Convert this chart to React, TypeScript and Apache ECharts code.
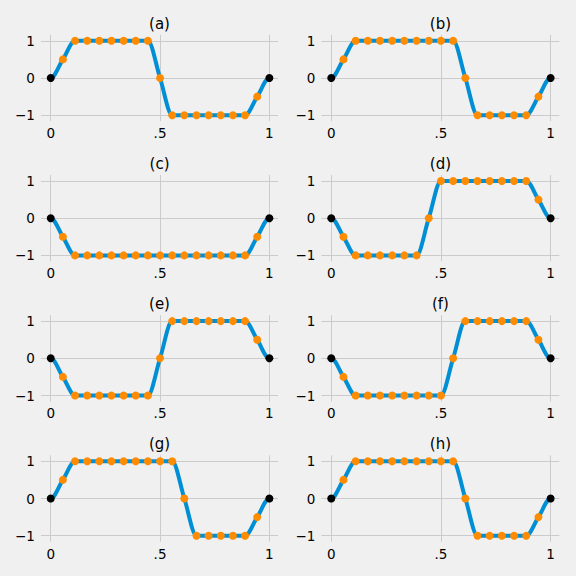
import React, { useEffect, useRef } from "react";
import * as echarts from "echarts";

// sample positions (k/18, k = 0..18)
const sampleX = [
  0, 1 / 18, 2 / 18, 3 / 18, 4 / 18, 5 / 18, 6 / 18, 7 / 18, 8 / 18, 9 / 18,
  10 / 18, 11 / 18, 12 / 18, 13 / 18, 14 / 18, 15 / 18, 16 / 18, 17 / 18, 1,
];

const panelTitles = ["(a)", "(b)", "(c)", "(d)", "(e)", "(f)", "(g)", "(h)"];

const valuesA = [0, 0.5, 1, 1, 1, 1, 1, 1, 1, 0, -1, -1, -1, -1, -1, -1, -1, -0.5, 0];
const valuesB = [0, 0.5, 1, 1, 1, 1, 1, 1, 1, 1, 1, 0, -1, -1, -1, -1, -1, -0.5, 0];
const valuesC = [0, -0.5, -1, -1, -1, -1, -1, -1, -1, -1, -1, -1, -1, -1, -1, -1, -1, -0.5, 0];
const valuesD = [0, -0.5, -1, -1, -1, -1, -1, -1, 0, 1, 1, 1, 1, 1, 1, 1, 1, 0.5, 0];
const valuesE = [0, -0.5, -1, -1, -1, -1, -1, -1, -1, 0, 1, 1, 1, 1, 1, 1, 1, 0.5, 0];
const valuesF = [0, -0.5, -1, -1, -1, -1, -1, -1, -1, -1, 0, 1, 1, 1, 1, 1, 1, 0.5, 0];
const valuesG = [0, 0.5, 1, 1, 1, 1, 1, 1, 1, 1, 1, 0, -1, -1, -1, -1, -1, -0.5, 0];
const valuesH = [0, 0.5, 1, 1, 1, 1, 1, 1, 1, 1, 1, 0, -1, -1, -1, -1, -1, -0.5, 0];

const panelValues = [valuesA, valuesB, valuesC, valuesD, valuesE, valuesF, valuesG, valuesH];

const xTickValues = [0, 0.5, 1];
const xTickLabels = ["0", ".5", "1"];
const yTickValues = [-1, 0, 1];
const yTickLabels = ["\u22121", "0", "1"];

// layout (pixels)
const colLeft = [40.9, 321.4];
const colWidth = [237.2, 238.0];
const rowZero = [78, 218.2, 358.3, 498.5];
const unitY = 37.2;
const yMin = -1.16;
const yMax = 1.16;
const xMin = -0.045;
const xMax = 1.04;

const BG = "#f0f0f0";
const BLUE = "#008fd5";
const ORANGE = "#ff8c00";
const GRIDC = "#cbcbcb";
const FONT = "DejaVu Sans";

// monotone Hermite tangents (flat at ends and next to plateaus)
function tangents(xs: number[], ys: number[]): number[] {
  const n = xs.length;
  const m: number[] = new Array(n).fill(0);
  for (let j = 1; j < n - 1; j++) {
    const d0 = (ys[j] - ys[j - 1]) / (xs[j] - xs[j - 1]);
    const d1 = (ys[j + 1] - ys[j]) / (xs[j + 1] - xs[j]);
    m[j] = d0 * d1 <= 0 ? 0 : (d0 + d1) / 2;
  }
  return m;
}

export default function App() {
  const ref = useRef<HTMLDivElement>(null);

  useEffect(() => {
    if (!ref.current) return;
    const chart = echarts.init(ref.current, undefined, { renderer: "svg" });

    const grids: any[] = [];
    const xAxes: any[] = [];
    const yAxes: any[] = [];
    const series: any[] = [];
    const graphics: any[] = [];

    const labelFmt = (vals: number[], labels: string[]) => (v: number) => {
      const k = vals.findIndex((t) => Math.abs(t - v) < 1e-9);
      return k >= 0 ? labels[k] : "";
    };

    panelValues.forEach((vals, i) => {
      const col = i % 2;
      const row = Math.floor(i / 2);
      const top = rowZero[row] - yMax * unitY;
      const height = (yMax - yMin) * unitY;
      grids.push({ left: colLeft[col], top, width: colWidth[col], height });
      xAxes.push({
        type: "value",
        gridIndex: i,
        min: xMin,
        max: xMax,
        axisLine: { show: false },
        axisTick: { show: false, customValues: xTickValues },
        axisLabel: {
          customValues: xTickValues,
          margin: 5,
          fontFamily: FONT,
          fontSize: 13.5,
          color: "#000",
          formatter: labelFmt(xTickValues, xTickLabels),
        },
        splitLine: { show: true, lineStyle: { color: GRIDC, width: 1 } },
      });
      yAxes.push({
        type: "value",
        gridIndex: i,
        min: yMin,
        max: yMax,
        axisLine: { show: false },
        axisTick: { show: false, customValues: yTickValues },
        axisLabel: {
          customValues: yTickValues,
          margin: 6,
          fontFamily: FONT,
          fontSize: 13.5,
          color: "#000",
          formatter: labelFmt(yTickValues, yTickLabels),
        },
        splitLine: { show: true, lineStyle: { color: GRIDC, width: 1 } },
      });

      const pts = sampleX.map((x, j) => [x, vals[j]]);
      const m = tangents(sampleX, vals);
      const segs = [];
      for (let j = 0; j < sampleX.length - 1; j++) {
        segs.push([sampleX[j], vals[j], sampleX[j + 1], vals[j + 1], m[j], m[j + 1]]);
      }
      series.push({
        type: "custom",
        xAxisIndex: i,
        yAxisIndex: i,
        data: segs,
        encode: { x: [0, 2], y: [1, 3] },
        silent: true,
        z: 2,
        renderItem: (_params: any, api: any) => {
          const x0 = api.value(0);
          const y0 = api.value(1);
          const x1 = api.value(2);
          const y1 = api.value(3);
          const m0 = api.value(4);
          const m1 = api.value(5);
          const h = (x1 - x0) / 3;
          const p0 = api.coord([x0, y0]);
          const p1 = api.coord([x1, y1]);
          const c1 = api.coord([x0 + h, y0 + m0 * h]);
          const c2 = api.coord([x1 - h, y1 - m1 * h]);
          return {
            type: "bezierCurve",
            shape: {
              x1: p0[0], y1: p0[1],
              x2: p1[0], y2: p1[1],
              cpx1: c1[0], cpy1: c1[1],
              cpx2: c2[0], cpy2: c2[1],
            },
            style: { stroke: BLUE, lineWidth: 4, fill: null, lineCap: "round" },
          };
        },
      });
      series.push({
        type: "scatter",
        xAxisIndex: i,
        yAxisIndex: i,
        data: pts.slice(1, pts.length - 1),
        symbolSize: 8,
        itemStyle: { color: ORANGE, opacity: 1 },
        z: 3,
        silent: true,
      });
      series.push({
        type: "scatter",
        xAxisIndex: i,
        yAxisIndex: i,
        data: [pts[0], pts[pts.length - 1]],
        symbolSize: 8,
        itemStyle: { color: "#000", opacity: 1 },
        z: 4,
        silent: true,
      });
      graphics.push({
        type: "text",
        x: colLeft[col] + colWidth[col] / 2,
        y: rowZero[row] - 54.5,
        style: {
          text: panelTitles[i],
          fontFamily: FONT,
          fontSize: 15,
          fill: "#000",
          align: "center",
          verticalAlign: "middle",
        },
      });
    });

    chart.setOption({
      animation: false,
      backgroundColor: BG,
      grid: grids,
      xAxis: xAxes,
      yAxis: yAxes,
      series,
      graphic: graphics,
    });

    return () => chart.dispose();
  }, []);

  return (
    <div style={{ position: "fixed", left: 0, top: 0, width: 576, height: 576, background: BG }}>
      <div ref={ref} style={{ width: 576, height: 576 }} />
    </div>
  );
}
